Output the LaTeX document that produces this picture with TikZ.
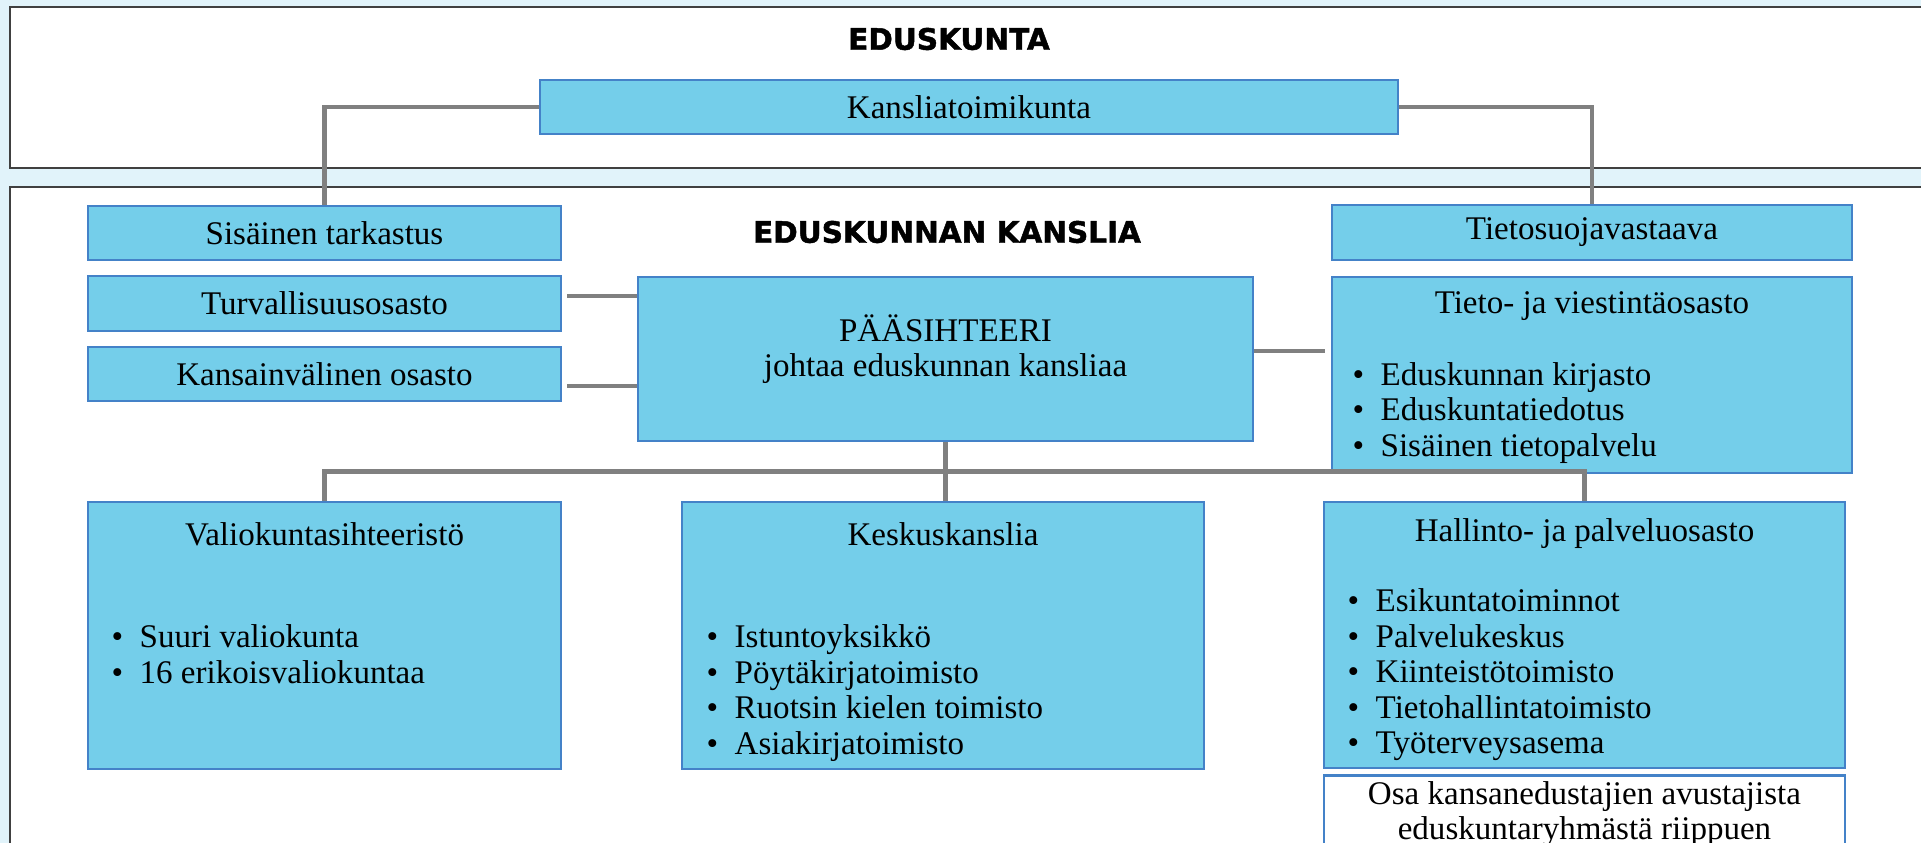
\documentclass[tikz,border=0pt]{standalone}
\usepackage{fontspec}
\setmainfont{Liberation Serif}
\newfontfamily\headfont{DejaVu Sans}[BoldFeatures={FakeBold=1.5}]
\definecolor{boxfill}{RGB}{116,206,234}
\definecolor{boxline}{RGB}{68,130,200}
\definecolor{bgblue}{RGB}{225,243,250}
\definecolor{conngray}{RGB}{128,128,128}
\newcommand{\itm}[1]{\makebox[2.8mm][l]{\textbullet}#1}

\begin{document}
\begin{tikzpicture}[x=1cm,y=-1cm,
  box/.style={draw=boxline,fill=boxfill,line width=0.6pt,inner sep=0pt,font=\fontsize{9.4}{10.1}\selectfont},
  frame/.style={draw=black!75,fill=white,line width=0.4pt},
  conn/.style={draw=conngray,line width=1.4pt},
  txt/.style={font=\fontsize{9.4}{10.1}\selectfont,inner sep=0pt},
  head/.style={font=\headfont\bfseries\fontsize{8.4}{10}\selectfont,inner sep=0pt}]

\useasboundingbox (0,0) rectangle (19.21,8.43);
\fill[bgblue] (0,0) rectangle (19.21,8.43);

% Frames
\draw[frame] (0.098,0.07) rectangle (19.5,1.68);
\draw[frame] (0.098,1.87) rectangle (19.5,8.8);
\node[head] (edk) at (9.49,0.39) {EDUSKUNTA};
\node[head] (kns) at (9.47,2.32) {EDUSKUNNAN KANSLIA};

% Top level
\node[box,minimum width=8.58cm,minimum height=0.54cm] (kanslia) at (9.69,1.07) {Kansliatoimikunta};

% Left column
\node[box,minimum width=4.73cm,minimum height=0.54cm] (sisainen) at (3.245,2.33) {Sisäinen tarkastus};
\node[box,minimum width=4.73cm,minimum height=0.55cm] (turv) at (3.245,3.035) {Turvallisuusosasto};
\node[box,minimum width=4.73cm,minimum height=0.54cm] (kansain) at (3.245,3.74) {Kansainvälinen osasto};

% Paasihteeri
\node[box,minimum width=6.15cm,minimum height=1.64cm] (pa) at (9.455,3.59) {};
\node[txt,align=center] (pa-t) at (9.455,3.49) {PÄÄSIHTEERI\\johtaa eduskunnan kansliaa};

% Right column
\node[box,minimum width=5.2cm,minimum height=0.55cm] (tietosuoja) at (15.92,2.325) {Tietosuojavastaava};
\node[box,minimum width=5.2cm,minimum height=1.96cm] (tieto) at (15.92,3.75) {};
\node[txt] (tieto-t) at (15.92,3.06) {Tieto- ja viestintäosasto};
\node[txt,anchor=west,align=left] (tieto-l) at (13.52,4.13)
  {\itm{Eduskunnan kirjasto}\\\itm{Eduskuntatiedotus}\\\itm{Sisäinen tietopalvelu}};

% Bottom row
\node[box,minimum width=4.73cm,minimum height=2.67cm] (valio) at (3.245,6.355) {};
\node[txt] (valio-t) at (3.245,5.34) {Valiokuntasihteeristö};
\node[txt,anchor=west,align=left] (valio-l) at (1.11,6.54)
  {\itm{Suuri valiokunta}\\\itm{16 erikoisvaliokuntaa}};

\node[box,minimum width=5.22cm,minimum height=2.67cm] (keskus) at (9.43,6.355) {};
\node[txt] (keskus-t) at (9.43,5.34) {Keskuskanslia};
\node[txt,anchor=west,align=left] (keskus-l) at (7.06,6.93)
  {\itm{Istuntoyksikkö}\\\itm{Pöytäkirjatoimisto}\\\itm{Ruotsin kielen toimisto}\\\itm{Asiakirjatoimisto}};

\node[box,minimum width=5.21cm,minimum height=2.66cm] (hallinto) at (15.845,6.35) {};
\node[txt] (hallinto-t) at (15.845,5.34) {Hallinto- ja palveluosasto};
\node[txt,anchor=west,align=left] (hallinto-l) at (13.47,6.75)
  {\itm{Esikuntatoiminnot}\\\itm{Palvelukeskus}\\\itm{Kiinteistötoimisto}\\\itm{Tietohallintatoimisto}\\\itm{Työterveysasema}};

\node[box,fill=white,minimum width=5.21cm,minimum height=0.95cm] (osa) at (15.845,8.23) {};
\node[txt,align=center] (osa-t) at (15.845,8.14) {Osa kansanedustajien avustajista\\eduskuntaryhmästä riippuen};

% Connectors
\draw[conn] (kanslia.west) -| (sisainen.north);
\draw[conn] (kanslia.east) -| (tietosuoja.north);
\draw[conn,shorten <=0.5mm] ([yshift=0.75mm]turv.east) coordinate (c1) -- (c1 -| pa.west);
\draw[conn,shorten <=0.5mm] ([yshift=-1.2mm]kansain.east) coordinate (c2) -- (c2 -| pa.west);
\draw[conn,shorten >=0.6mm] ([yshift=0.8mm]pa.east) coordinate (c3) -- (c3 -| tieto.west);
\draw[conn] (pa.south) -- (pa.south |- keskus.north);
\draw[conn] (valio.north) -- ++(0,-0.29) -| (hallinto.north);

\end{tikzpicture}
\end{document}
